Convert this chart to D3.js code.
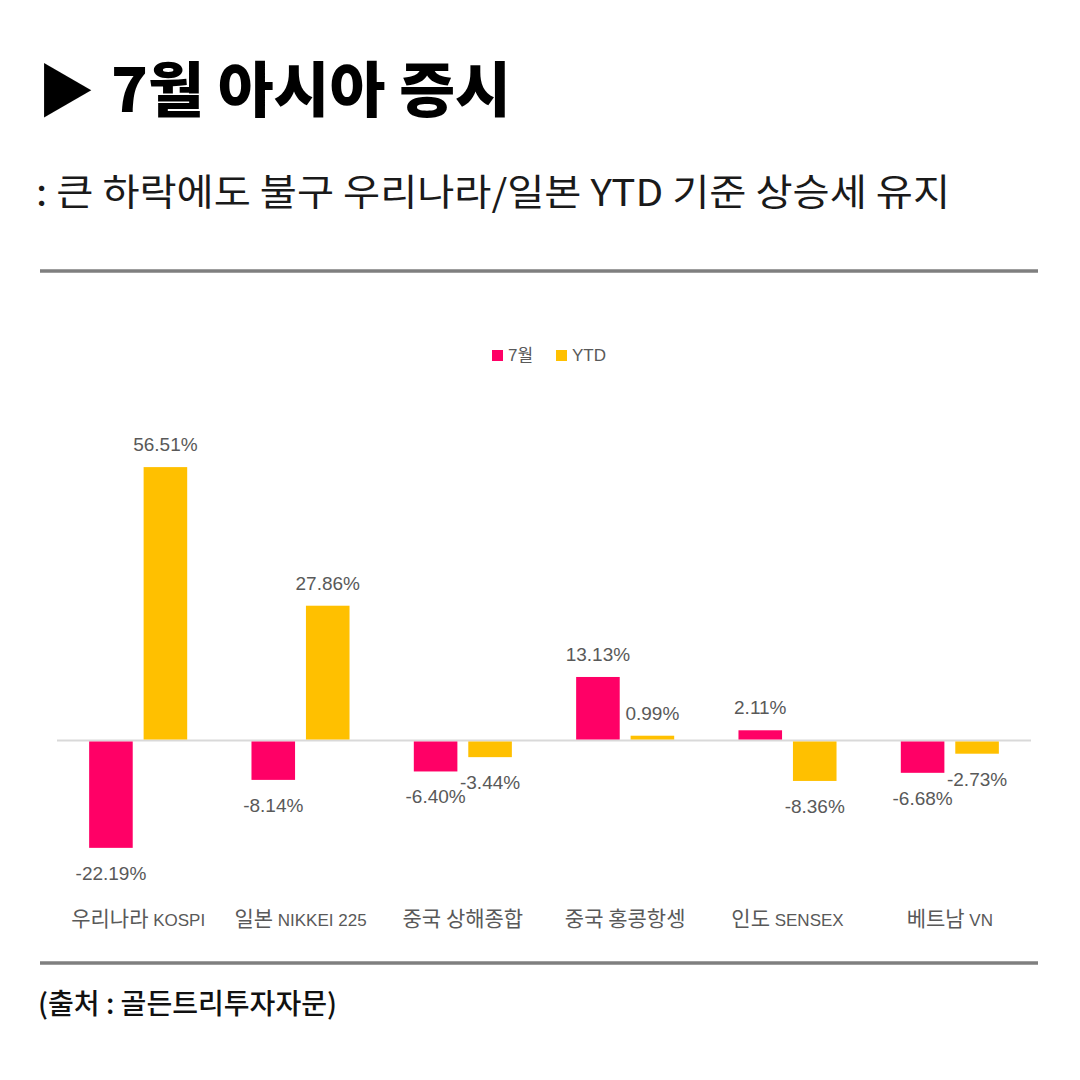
<!DOCTYPE html>
<html>
<head>
<meta charset="utf-8">
<script src="https://cdn.jsdelivr.net/npm/d3@7"></script>
<style>
  html, body { margin: 0; padding: 0; background: #fff; }
</style>
</head>
<body>
<div id="chart"></div>
<script>
var categories = ["우리나라 KOSPI", "일본 NIKKEI 225", "중국 상해종합", "중국 홍콩항셍", "인도 SENSEX", "베트남 VN"];
var seriesNames = ["7월", "YTD"];
var julyValues = [-22.19, -8.14, -6.40, 13.13, 2.11, -6.68];
var ytdValues = [56.51, 27.86, -3.44, 0.99, -8.36, -2.73];
var seriesColors = ["#FF0066", "#FFC000"];

var W = 1080, H = 1080;
var svg = d3.select("#chart").append("svg")
	.attr("width", W)
	.attr("height", H);

var kr = "'Noto Sans CJK KR', sans-serif";
var mixed = "'Liberation Sans', 'Noto Sans CJK KR', sans-serif";

// title
svg.append("text")
	.attr("x", 37)
	.attr("y", 112)
	.attr("fill", "#000")
	.style("font-family", kr)
	.style("font-size", "58px")
	.text("▶");

svg.append("text")
	.attr("x", 111)
	.attr("y", 112)
	.attr("fill", "#000")
	.attr("textLength", 400)
	.attr("lengthAdjust", "spacingAndGlyphs")
	.style("font-family", kr)
	.style("font-weight", 900)
	.style("font-size", "60px")
	.text("7월 아시아 증시");

svg.append("text")
	.attr("x", 36)
	.attr("y", 206)
	.attr("fill", "#1a1a1a")
	.attr("textLength", 914)
	.attr("lengthAdjust", "spacingAndGlyphs")
	.style("font-family", kr)
	.style("font-weight", 400)
	.style("font-size", "37px")
	.text(": 큰 하락에도 불구 우리나라/일본 YTD 기준 상승세 유지");

// divider lines
[271, 963].forEach(function (yy) {
	svg.append("line")
		.attr("x1", 40).attr("x2", 1038)
		.attr("y1", yy).attr("y2", yy)
		.attr("stroke", "#7f7f7f")
		.attr("stroke-width", 3.5);
});

svg.append("text")
	.attr("x", 38)
	.attr("y", 1014)
	.attr("fill", "#111")
	.attr("textLength", 299)
	.attr("lengthAdjust", "spacingAndGlyphs")
	.style("font-family", kr)
	.style("font-weight", 500)
	.style("font-size", "28px")
	.text("(출처 : 골든트리투자자문)");

// scales
var x0 = d3.scaleBand()
	.domain(categories)
	.range([57, 1031])
	.paddingInner(0.396)
	.paddingOuter(0.198);

var x1 = d3.scaleBand()
	.domain(seriesNames)
	.range([0, x0.bandwidth()])
	.paddingInner(0.2);

var y = d3.scaleLinear()
	.domain([-30, 60])
	.range([740.5 + 30 * 4.838, 740.5 - 60 * 4.838]);

var color = d3.scaleOrdinal().domain(seriesNames).range(seriesColors);

var rows = categories.map(function (c, i) {
	return { cat: c, vals: [
		{ s: seriesNames[0], v: julyValues[i] },
		{ s: seriesNames[1], v: ytdValues[i] }
	] };
});

// zero line
svg.append("line")
	.attr("x1", 57).attr("x2", 1031)
	.attr("y1", y(0)).attr("y2", y(0))
	.attr("stroke", "#d9d9d9")
	.attr("stroke-width", 2);

var groups = svg.selectAll("g.grp")
	.data(rows)
	.enter().append("g")
	.attr("class", "grp")
	.attr("transform", function (d) { return "translate(" + x0(d.cat) + ",0)"; });

groups.selectAll("rect")
	.data(function (d) { return d.vals; })
	.enter().append("rect")
	.attr("x", function (d) { return x1(d.s); })
	.attr("width", x1.bandwidth())
	.attr("y", function (d) { return d.v >= 0 ? y(d.v) : y(0) + 1; })
	.attr("height", function (d) { return Math.abs(y(d.v) - y(0)) - 1; })
	.attr("fill", function (d) { return color(d.s); });

groups.selectAll("text.val")
	.data(function (d) { return d.vals; })
	.enter().append("text")
	.attr("class", "val")
	.attr("x", function (d) { return x1(d.s) + x1.bandwidth() / 2; })
	.attr("y", function (d) { return d.v >= 0 ? y(d.v) - 16 : y(d.v) + 32; })
	.attr("text-anchor", "middle")
	.attr("fill", "#595959")
	.style("font-family", mixed)
	.style("font-size", "19px")
	.text(function (d) { return d.v.toFixed(2) + "%"; });

// category axis labels: hangul a bit larger than latin, like the original
var xAxis = d3.axisBottom(x0).tickSize(0).tickPadding(0).tickFormat("");
var axisG = svg.append("g")
	.attr("transform", "translate(0,926)")
	.call(xAxis);
axisG.select(".domain").remove();
axisG.selectAll(".tick").append("text")
	.attr("text-anchor", "middle")
	.attr("fill", "#595959")
	.each(function (d) {
		var t = d3.select(this);
		var parts = d.match(/[^\x00-\x7f]+|[\x00-\x7f]+/g);
		parts.forEach(function (p) {
			var hangul = /[^\x00-\x7f]/.test(p);
			t.append("tspan")
				.style("font-family", hangul ? kr : "'Liberation Sans', sans-serif")
				.style("font-size", hangul ? "21px" : "17px")
				.text(p);
		});
	});

// legend
var legend = svg.append("g").attr("transform", "translate(492,349)");
var legX = [0, 64];
seriesNames.forEach(function (s, i) {
	legend.append("rect")
		.attr("x", legX[i]).attr("y", 1)
		.attr("width", 11).attr("height", 11)
		.attr("fill", color(s));
	legend.append("text")
		.attr("x", legX[i] + 16)
		.attr("y", 12)
		.attr("fill", "#595959")
		.style("font-family", mixed)
		.style("font-size", "17px")
		.text(s);
});
</script>
</body>
</html>
